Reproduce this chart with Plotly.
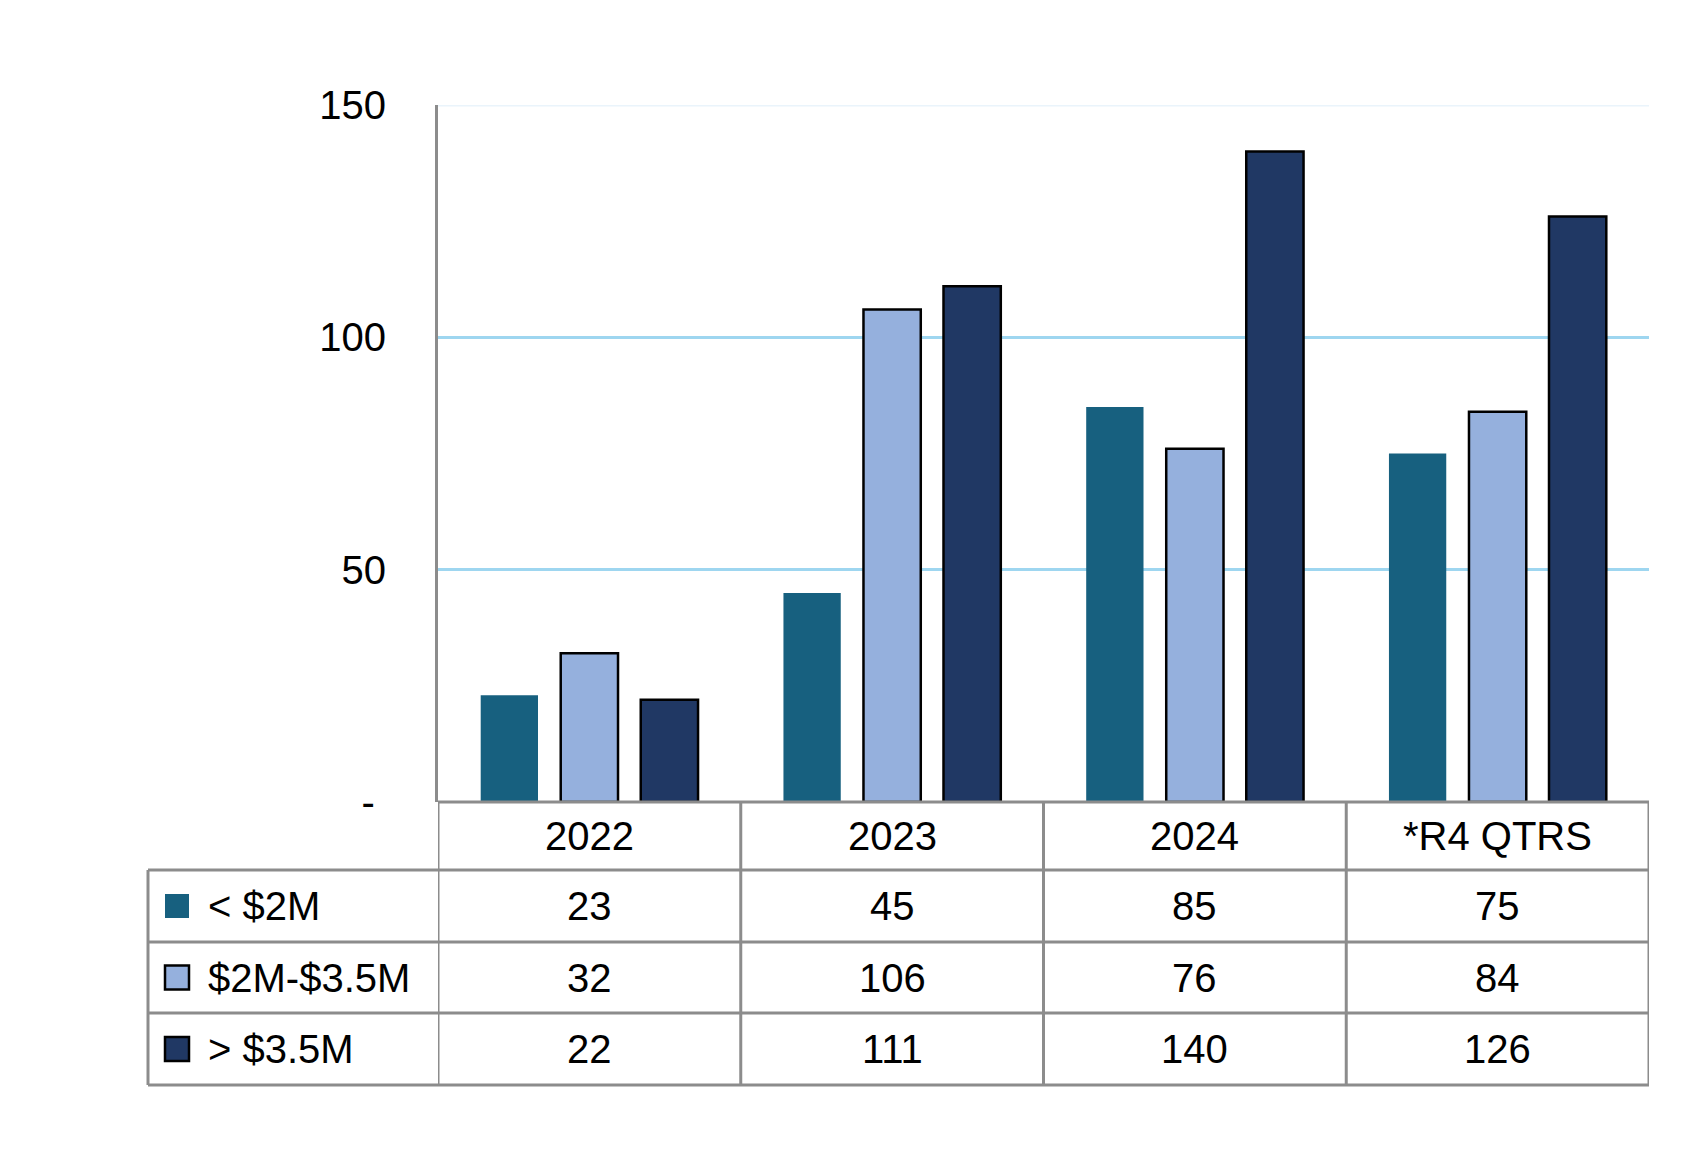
import plotly.graph_objects as go

categories = ["2022", "2023", "2024", "*R4 QTRS"]
series_names = ["< $2M", "$2M-$3.5M", "> $3.5M"]
under_2m = [23, 45, 85, 75]
mid_2m_35m = [32, 106, 76, 84]
over_35m = [22, 111, 140, 126]
y_tickvals = [0, 50, 100, 150]
y_ticktext = ["-\u00a0", "50", "100", "150"]

values = [under_2m, mid_2m_35m, over_35m]
fills = ["#17607F", "#95B0DD", "#203864"]
outline = [0, 2.5, 2.5]

FONT = "Liberation Sans"
FS = 40
GRAY = "#8C8C8C"

OFF = 8  # page body margin
W, H = 1699 - OFF, 1155 - OFF
L, R, T, B = 438 - OFF, 1649 - OFF, 105 - OFF, 802 - OFF
PW, PH = R - L, B - T


def px(x):
    return (x - OFF - L) / PW


def py(y):
    return (B - (y - OFF)) / PH


fig = go.Figure()
for name, vals, col, lw in zip(series_names, values, fills, outline):
    fig.add_trace(go.Bar(
        x=categories, y=vals, name=name,
        marker=dict(color=col, line=dict(color="#000000", width=lw)),
        showlegend=False,
    ))

shapes = []
shapes.append(dict(type="line", xref="paper", yref="y", x0=0, x1=1, y0=150, y1=150,
                   line=dict(color="#EAF4FB", width=3), layer="below"))

row_edges = [802, 870, 942, 1013, 1085]
leg_left = 148
lw_t = 3
shapes.append(dict(type="line", xref="paper", yref="paper", x0=0, x1=1,
                   y0=py(row_edges[0]), y1=py(row_edges[0]), line=dict(color=GRAY, width=lw_t)))
for ry in row_edges[1:]:
    shapes.append(dict(type="line", xref="paper", yref="paper", x0=px(leg_left), x1=1,
                       y0=py(ry), y1=py(ry), line=dict(color=GRAY, width=lw_t)))
for i in range(len(categories) + 1):
    shapes.append(dict(type="line", xref="x", yref="paper", x0=i - 0.5, x1=i - 0.5,
                       y0=py(row_edges[0]), y1=py(row_edges[-1]), line=dict(color=GRAY, width=lw_t)))
shapes.append(dict(type="line", xref="paper", yref="paper", x0=px(leg_left), x1=px(leg_left),
                   y0=py(row_edges[1]), y1=py(row_edges[-1]), line=dict(color=GRAY, width=lw_t)))

annotations = []
hdr_c = (row_edges[0] + row_edges[1]) / 2
for i, c in enumerate(categories):
    annotations.append(dict(x=i, xref="x", y=py(hdr_c), yref="paper", text=c, showarrow=False,
                            font=dict(family=FONT, size=FS, color="#000"), xanchor="center", yanchor="middle"))
for r, (name, vals, col, lw) in enumerate(zip(series_names, values, fills, outline)):
    rc = (row_edges[r + 1] + row_edges[r + 2]) / 2
    for i, v in enumerate(vals):
        annotations.append(dict(x=i, xref="x", y=py(rc), yref="paper", text=str(v), showarrow=False,
                                font=dict(family=FONT, size=FS, color="#000"), xanchor="center", yanchor="middle"))
    sq = 24
    shapes.append(dict(type="rect", xref="paper", yref="paper",
                       x0=px(165), x1=px(165 + sq), y0=py(rc + sq / 2), y1=py(rc - sq / 2),
                       fillcolor=col, line=dict(color="#000000", width=lw if lw else 0)))
    annotations.append(dict(x=px(206), xref="paper", y=py(rc), yref="paper", text=name, showarrow=False,
                            font=dict(family=FONT, size=FS, color="#000"), xanchor="left", yanchor="middle"))

fig.update_layout(
    width=W, height=H,
    margin=dict(l=L, r=W - R, t=T, b=H - B, pad=0),
    paper_bgcolor="white", plot_bgcolor="white",
    barmode="group", bargap=0.207, bargroupgap=0.284,
    shapes=shapes, annotations=annotations,
    font=dict(family=FONT, size=FS, color="#000"),
    xaxis=dict(type="category", showticklabels=False, showgrid=False, zeroline=False, showline=False,
               range=[-0.5, len(categories) - 0.5]),
    yaxis=dict(range=[0, 150], tickvals=y_tickvals, ticktext=y_ticktext,
               showgrid=True, gridcolor="#9ED6F0", gridwidth=3, zeroline=False,
               showline=True, linecolor=GRAY, linewidth=3, ticks="", ticklabelstandoff=41,
               tickfont=dict(family=FONT, size=FS, color="#000")),
)

fig.write_html("out.html")
